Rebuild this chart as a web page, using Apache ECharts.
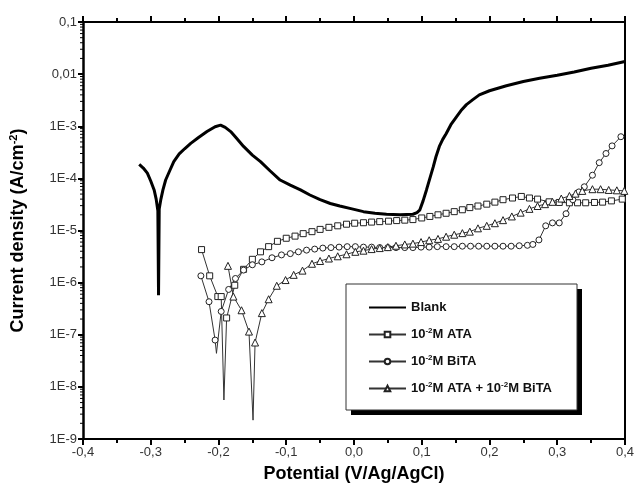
<!DOCTYPE html>
<html>
<head>
<meta charset="utf-8">
<script src="https://cdn.jsdelivr.net/npm/echarts@6/dist/echarts.min.js"></script>
<style>
  html, body { margin: 0; padding: 0; background: #fff; }
  #chart { width: 637px; height: 494px; }
</style>
</head>
<body>
<div id="chart"></div>
<script>
// Polarization curves: [potential (V vs Ag/AgCl), current density (A/cm2)]
const blankPoints = [
  [-0.317, 1.86e-4], [-0.311, 1.58e-4], [-0.305, 1.26e-4], [-0.300, 8.9e-5], [-0.295, 6.0e-5],
  [-0.292, 4.0e-5], [-0.2895, 2.4e-5], [-0.2885, 5.7e-7], [-0.2875, 2.6e-5], [-0.285, 4.0e-5],
  [-0.282, 6.0e-5], [-0.278, 9.3e-5], [-0.272, 1.4e-4], [-0.266, 2.1e-4], [-0.258, 2.95e-4],
  [-0.250, 3.7e-4], [-0.241, 4.7e-4], [-0.230, 6.0e-4], [-0.217, 7.9e-4], [-0.205, 9.8e-4],
  [-0.197, 1.05e-3], [-0.190, 9.5e-4], [-0.182, 7.9e-4], [-0.173, 5.8e-4], [-0.163, 4.1e-4],
  [-0.150, 2.8e-4], [-0.138, 2.1e-4], [-0.124, 1.4e-4], [-0.109, 9.3e-5], [-0.094, 7.4e-5],
  [-0.079, 6.0e-5], [-0.065, 4.8e-5], [-0.050, 3.9e-5], [-0.035, 3.3e-5], [-0.021, 2.95e-5],
  [-0.003, 2.6e-5], [0.014, 2.3e-5], [0.031, 2.15e-5], [0.048, 2.05e-5], [0.068, 2.0e-5],
  [0.087, 2.05e-5], [0.093, 2.2e-5], [0.097, 2.45e-5], [0.102, 3.7e-5], [0.107, 6.0e-5],
  [0.112, 1.0e-4], [0.117, 1.66e-4], [0.121, 2.6e-4], [0.126, 4.1e-4], [0.131, 5.6e-4],
  [0.136, 7.2e-4], [0.143, 1.07e-3], [0.151, 1.5e-3], [0.158, 2.0e-3], [0.166, 2.6e-3],
  [0.175, 3.2e-3], [0.185, 4.0e-3], [0.200, 4.8e-3], [0.225, 6.0e-3], [0.250, 7.2e-3],
  [0.274, 8.3e-3], [0.300, 9.5e-3], [0.325, 1.1e-2], [0.350, 1.3e-2], [0.375, 1.48e-2],
  [0.400, 1.74e-2]
];

const ataPoints = [
  [-0.225, 4.3e-6], [-0.213, 1.35e-6], [-0.201, 5.4e-7], [-0.196, 5.4e-7], [-0.192, 5.6e-9],
  [-0.188, 2.1e-7], [-0.176, 8.9e-7], [-0.163, 1.8e-6], [-0.150, 2.8e-6], [-0.138, 3.9e-6],
  [-0.126, 4.9e-6], [-0.113, 6.2e-6], [-0.100, 7.1e-6], [-0.087, 7.8e-6], [-0.075, 8.7e-6],
  [-0.062, 9.5e-6], [-0.050, 1.05e-5], [-0.037, 1.15e-5], [-0.024, 1.23e-5], [-0.011, 1.32e-5],
  [0.001, 1.38e-5], [0.014, 1.41e-5], [0.026, 1.45e-5], [0.038, 1.48e-5], [0.051, 1.51e-5],
  [0.063, 1.55e-5], [0.075, 1.58e-5], [0.087, 1.62e-5], [0.100, 1.74e-5], [0.112, 1.86e-5],
  [0.124, 2.0e-5], [0.136, 2.14e-5], [0.148, 2.3e-5], [0.160, 2.5e-5], [0.171, 2.75e-5],
  [0.183, 2.95e-5], [0.196, 3.2e-5], [0.208, 3.5e-5], [0.220, 3.9e-5], [0.234, 4.2e-5],
  [0.247, 4.5e-5], [0.259, 4.2e-5], [0.271, 4.0e-5], [0.288, 3.55e-5], [0.303, 3.45e-5],
  [0.318, 3.4e-5], [0.330, 3.4e-5], [0.342, 3.4e-5], [0.355, 3.45e-5], [0.367, 3.5e-5],
  [0.380, 3.7e-5], [0.396, 4.0e-5]
];

const bitaPoints = [
  [-0.226, 1.35e-6], [-0.214, 4.3e-7], [-0.205, 7.9e-8], [-0.203, 4.4e-8], [-0.196, 2.8e-7],
  [-0.185, 7.4e-7], [-0.175, 1.2e-6], [-0.163, 1.74e-6], [-0.150, 2.2e-6], [-0.136, 2.5e-6],
  [-0.121, 3.0e-6], [-0.107, 3.4e-6], [-0.094, 3.6e-6], [-0.082, 3.9e-6], [-0.070, 4.2e-6],
  [-0.058, 4.4e-6], [-0.046, 4.6e-6], [-0.034, 4.7e-6], [-0.022, 4.8e-6], [-0.010, 4.9e-6],
  [0.002, 4.9e-6], [0.014, 4.8e-6], [0.026, 4.8e-6], [0.038, 4.7e-6], [0.050, 4.7e-6],
  [0.062, 4.7e-6], [0.075, 4.7e-6], [0.087, 4.7e-6], [0.099, 4.8e-6], [0.111, 4.8e-6],
  [0.123, 4.9e-6], [0.136, 4.9e-6], [0.148, 4.9e-6], [0.160, 5.0e-6], [0.172, 5.0e-6],
  [0.184, 5.0e-6], [0.196, 5.0e-6], [0.208, 5.0e-6], [0.220, 5.0e-6], [0.232, 5.0e-6],
  [0.244, 5.1e-6], [0.256, 5.2e-6], [0.264, 5.4e-6], [0.273, 6.6e-6], [0.283, 1.23e-5],
  [0.293, 1.4e-5], [0.303, 1.4e-5], [0.313, 2.1e-5], [0.323, 3.9e-5], [0.332, 5.5e-5],
  [0.340, 6.9e-5], [0.352, 1.15e-4], [0.362, 2.0e-4], [0.372, 3.0e-4], [0.381, 4.2e-4],
  [0.394, 6.3e-4]
];

const mixPoints = [
  [-0.186, 2.1e-6], [-0.178, 5.4e-7], [-0.166, 2.95e-7], [-0.155, 1.15e-7], [-0.149, 2.3e-9],
  [-0.146, 7.1e-8], [-0.136, 2.6e-7], [-0.126, 4.8e-7], [-0.114, 8.7e-7], [-0.101, 1.12e-6],
  [-0.089, 1.41e-6], [-0.076, 1.7e-6], [-0.062, 2.3e-6], [-0.050, 2.6e-6], [-0.037, 2.9e-6],
  [-0.024, 3.2e-6], [-0.011, 3.5e-6], [0.002, 3.9e-6], [0.014, 4.1e-6], [0.026, 4.4e-6],
  [0.038, 4.6e-6], [0.050, 4.8e-6], [0.062, 5.1e-6], [0.075, 5.4e-6], [0.087, 5.6e-6],
  [0.099, 6.0e-6], [0.111, 6.5e-6], [0.124, 6.9e-6], [0.136, 7.6e-6], [0.148, 8.3e-6],
  [0.160, 8.9e-6], [0.171, 9.5e-6], [0.183, 1.1e-5], [0.196, 1.23e-5], [0.208, 1.38e-5],
  [0.220, 1.58e-5], [0.233, 1.86e-5], [0.246, 2.2e-5], [0.259, 2.6e-5], [0.271, 2.95e-5],
  [0.282, 3.2e-5], [0.293, 3.55e-5], [0.306, 4.1e-5], [0.318, 4.6e-5], [0.327, 5.1e-5],
  [0.337, 5.75e-5], [0.352, 6.2e-5], [0.364, 6.2e-5], [0.376, 6.0e-5], [0.388, 5.9e-5],
  [0.399, 5.75e-5]
];

const seriesNames = ['Blank', '10-2M ATA', '10-2M BiTA', '10-2M ATA + 10-2M BiTA'];
const legendLabels = [
  'Blank',
  '10{sup|-2}M ATA',
  '10{sup|-2}M BiTA',
  '10{sup|-2}M ATA + 10{sup|-2}M BiTA'
];
const decadeExponents = [-9, -8, -7, -6, -5, -4, -3, -2];
const minorMultipliers = [2, 3, 4, 5, 6, 7, 8, 9];

const FONT = '"Liberation Sans", Arial, sans-serif';

// Log-spaced minor ticks for the current-density axis
const minorTickValues = [];
decadeExponents.forEach(e => minorMultipliers.forEach(k => minorTickValues.push(k * Math.pow(10, e))));

// The sharp corrosion-potential dip carries no marker
function withDipUnmarked(points) {
  let minIdx = 0;
  points.forEach((p, i) => { if (p[1] < points[minIdx][1]) minIdx = i; });
  return points.map((p, i) => i === minIdx ? { value: p, symbol: 'none' } : p);
}

function yLabel(v) {
  const e = Math.round(Math.log10(v));
  if (e >= -2) return '0,' + '0'.repeat(-e - 1) + '1';
  return '1E' + e;
}

const chart = echarts.init(document.getElementById('chart'), null, { renderer: 'canvas' });

const thinLine = { color: '#333', width: 1 };
const hollow = { color: '#fff', borderColor: '#222', borderWidth: 1 };

// Legend frame with a hard drop shadow
const LEGEND_BOX = { x: 346, y: 284, w: 231, h: 126, shadow: 5 };

chart.setOption({
  animation: false,
  backgroundColor: '#fff',
  grid: { left: 82, right: 11, top: 22, bottom: 55, show: false },
  graphic: [
    {
      type: 'rect', z: 10, silent: true,
      shape: { x: LEGEND_BOX.x + LEGEND_BOX.shadow, y: LEGEND_BOX.y + LEGEND_BOX.shadow, width: LEGEND_BOX.w, height: LEGEND_BOX.h },
      style: { fill: '#000' }
    },
    {
      type: 'rect', z: 11, silent: true,
      shape: { x: LEGEND_BOX.x, y: LEGEND_BOX.y, width: LEGEND_BOX.w, height: LEGEND_BOX.h },
      style: { fill: '#fff', stroke: '#333', lineWidth: 1 }
    }
  ],
  xAxis: [
    {
      type: 'value', min: -0.4, max: 0.4, interval: 0.1, position: 'bottom',
      name: 'Potential (V/Ag/AgCl)', nameLocation: 'middle', nameGap: 26,
      nameTextStyle: { fontFamily: FONT, fontSize: 18, fontWeight: 'bold', color: '#000' },
      axisLine: { onZero: false, lineStyle: { color: '#000', width: 2 } },
      axisTick: { inside: false, length: 6, lineStyle: { color: '#000', width: 2 } },
      minorTick: { show: true, splitNumber: 2, length: 4, lineStyle: { color: '#000', width: 2 } },
      axisLabel: { fontFamily: FONT, fontSize: 13, color: '#333', margin: 7,
        formatter: v => v.toFixed(1).replace('.', ',') },
      splitLine: { show: false }
    },
    {
      type: 'value', min: -0.4, max: 0.4, interval: 0.1, position: 'top',
      axisLine: { onZero: false, lineStyle: { color: '#000', width: 2 } },
      axisTick: { inside: false, length: 6, lineStyle: { color: '#000', width: 2 } },
      minorTick: { show: true, splitNumber: 2, length: 4, lineStyle: { color: '#000', width: 2 } },
      axisLabel: { show: false },
      splitLine: { show: false }
    }
  ],
  yAxis: [
    {
      type: 'log', logBase: 10, min: 1e-9, max: 0.1, interval: 1, position: 'left',
      name: 'Current density (A/cm{sup|-2})', nameLocation: 'middle', nameGap: 55,
      nameTextStyle: { fontFamily: FONT, fontSize: 18, fontWeight: 'bold', color: '#000',
        rich: { sup: { fontFamily: FONT, fontSize: 11, fontWeight: 'bold', color: '#000', padding: [0, 0, 9, 0] } } },
      axisLine: { onZero: false, lineStyle: { color: '#000', width: 2.5 } },
      axisTick: { inside: false, length: 5, lineStyle: { color: '#000', width: 2 } },
      minorTick: { show: false },
      axisLabel: { fontFamily: FONT, fontSize: 13, color: '#333', margin: 6, formatter: yLabel },
      splitLine: { show: false }
    },
    {
      type: 'log', logBase: 10, min: 1e-9, max: 0.1, interval: 1, position: 'right',
      axisLine: { onZero: false, lineStyle: { color: '#000', width: 2 } },
      axisTick: { show: false },
      axisLabel: { show: false },
      splitLine: { show: false }
    }
  ],
  legend: {
    data: [
      { name: seriesNames[0], itemStyle: { opacity: 0 } },
      seriesNames[1], seriesNames[2], seriesNames[3]
    ],
    orient: 'vertical',
    left: LEGEND_BOX.x, top: LEGEND_BOX.y,
    padding: [17, 26, 16, 22],
    itemGap: 13, itemWidth: 37, itemHeight: 7,
    z: 20,
    textStyle: {
      fontFamily: FONT, fontSize: 13, fontWeight: 'bold', color: '#111',
      rich: { sup: { fontFamily: FONT, fontSize: 8, fontWeight: 'bold', color: '#111', padding: [0, 0, 7, 0] } }
    },
    formatter: name => legendLabels[seriesNames.indexOf(name)]
  },
  series: [
    {
      name: seriesNames[0], type: 'line', data: blankPoints, showSymbol: false, symbol: 'none',
      lineStyle: { color: '#000', width: 3 }, itemStyle: { color: '#000' }, z: 3
    },
    {
      name: seriesNames[1], type: 'line', data: withDipUnmarked(ataPoints),
      symbol: 'rect', symbolSize: 6, showAllSymbol: true,
      lineStyle: thinLine, itemStyle: hollow, z: 4
    },
    {
      name: seriesNames[2], type: 'line', data: withDipUnmarked(bitaPoints),
      symbol: 'circle', symbolSize: 6, showAllSymbol: true,
      lineStyle: thinLine, itemStyle: hollow, z: 4
    },
    {
      name: seriesNames[3], type: 'line', data: withDipUnmarked(mixPoints),
      symbol: 'triangle', symbolSize: 7, showAllSymbol: true,
      lineStyle: thinLine, itemStyle: hollow, z: 4
    },
    {
      name: 'minor ticks', type: 'custom', silent: true, clip: false, z: 6,
      data: minorTickValues.map(v => [-0.4, v]),
      renderItem: (params, api) => {
        const p = api.coord([api.value(0), api.value(1)]);
        return {
          type: 'line',
          shape: { x1: p[0] - 3, y1: p[1], x2: p[0], y2: p[1] },
          style: { stroke: '#000', lineWidth: 1 }
        };
      }
    }
  ]
});
</script>
</body>
</html>
